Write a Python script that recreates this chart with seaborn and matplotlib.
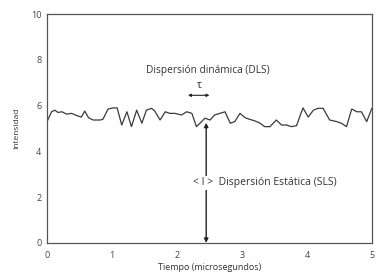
import matplotlib
matplotlib.use("Agg")
import matplotlib.pyplot as plt
import seaborn as sns
import pandas as pd

# señal de intensidad
tiempo = [0.0, 0.07, 0.12, 0.17, 0.23, 0.30, 0.38, 0.46, 0.53, 0.58, 0.64, 0.71,
          0.82, 0.86, 0.94, 1.02, 1.08, 1.15, 1.23, 1.30, 1.38, 1.46, 1.53, 1.61,
          1.66, 1.74, 1.82, 1.89, 1.97, 2.07, 2.15, 2.23, 2.30, 2.38, 2.43, 2.51,
          2.58, 2.66, 2.74, 2.82, 2.89, 2.97, 3.05, 3.12, 3.20, 3.28, 3.35, 3.43,
          3.53, 3.61, 3.69, 3.76, 3.84, 3.94, 4.02, 4.10, 4.17, 4.25, 4.35, 4.46,
          4.53, 4.61, 4.69, 4.77, 4.84, 4.92, 5.0]
intensidad = [5.3, 5.73, 5.8, 5.7, 5.73, 5.63, 5.66, 5.56, 5.5, 5.76, 5.47, 5.37,
              5.37, 5.4, 5.85, 5.9, 5.9, 5.15, 5.73, 5.08, 5.8, 5.23, 5.8, 5.88,
              5.76, 5.37, 5.73, 5.66, 5.66, 5.59, 5.73, 5.66, 5.08, 5.3, 5.45, 5.37,
              5.59, 5.66, 5.73, 5.23, 5.3, 5.66, 5.47, 5.4, 5.33, 5.23, 5.08, 5.08,
              5.37, 5.15, 5.15, 5.08, 5.12, 5.9, 5.5, 5.8, 5.88, 5.88, 5.37, 5.3,
              5.23, 5.08, 5.85, 5.73, 5.73, 5.3, 5.88]

x_ticks = [0, 1, 2, 3, 4, 5]
y_ticks = [0, 2, 4, 6, 8, 10]

t_sls = 2.45   # posicion de la flecha vertical
i_sls = 5.45
texto_dls = "Dispersión dinámica (DLS)"
texto_sls = "< I >  Dispersión Estática (SLS)"

df = pd.DataFrame({"Tiempo": tiempo, "Intensidad": intensidad})

sns.set_style("white")
plt.rcParams["font.family"] = ["Open Sans", "DejaVu Sans"]

fig = plt.figure(figsize=(3.76, 2.76), dpi=100)
ax = fig.add_axes([0.125, 0.12, 0.864, 0.829])

sns.lineplot(data=df, x="Tiempo", y="Intensidad", color="#3a3a3a", linewidth=0.9, ax=ax)

ax.set_xlim(0, 5)
ax.set_ylim(0, 10)
ax.set_xticks(x_ticks)
ax.set_yticks(y_ticks)
ax.tick_params(labelsize=6.5, colors="#444444", length=0)
ax.tick_params(axis="x", pad=6)
ax.tick_params(axis="y", pad=4)
ax.set_xlabel("Tiempo (microsegundos)", fontsize=6.5, color="#333333", labelpad=2)
ax.set_ylabel("Intensidad", fontsize=6, color="#333333", labelpad=8)
for s in ax.spines.values():
    s.set_color("#555555")
    s.set_linewidth(0.9)

# flecha vertical de SLS
ax.annotate("", xy=(t_sls, 0), xytext=(t_sls, i_sls - 0.2),
            arrowprops=dict(arrowstyle="<|-|>", color="#222222", lw=1.0,
                            mutation_scale=6, shrinkA=0, shrinkB=0))
ax.text(t_sls - 0.21, 2.62, texto_sls, fontsize=7.5, color="#333333", va="center",
        ha="left", bbox=dict(facecolor="white", edgecolor="none", pad=1))

# DLS y tau
ax.text(2.48, 7.55, texto_dls, fontsize=7.3, color="#333333", ha="center", va="center")
ax.text(2.34, 6.88, "τ", fontsize=7.5, color="#222222", ha="center", va="center")
ax.annotate("", xy=(2.17, 6.45), xytext=(2.5, 6.45),
            arrowprops=dict(arrowstyle="<|-|>", color="#222222", lw=0.8,
                            mutation_scale=4, shrinkA=0, shrinkB=0))

fig.savefig("out.png", dpi=100)
